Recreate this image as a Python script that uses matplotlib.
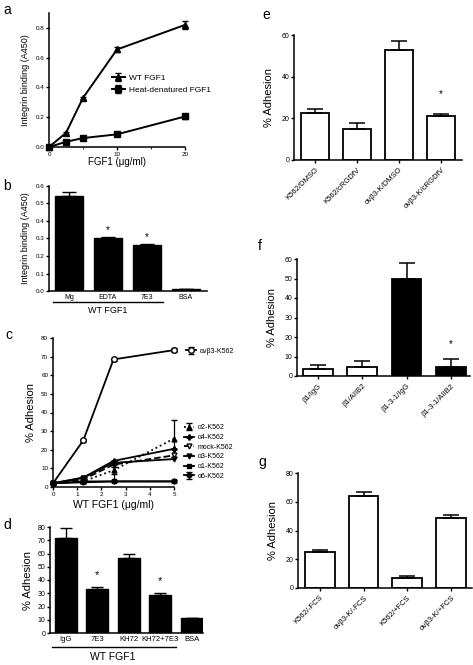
import matplotlib
matplotlib.use("Agg")
import matplotlib.pyplot as plt
import numpy as np

plt.rcParams['font.family'] = ['Liberation Sans', 'DejaVu Sans']
plt.rcParams['axes.linewidth'] = 1.1
plt.rcParams['xtick.major.width'] = 1.0
plt.rcParams['ytick.major.width'] = 1.0
plt.rcParams['xtick.major.size'] = 2.5
plt.rcParams['ytick.major.size'] = 2.5
plt.rcParams['xtick.direction'] = 'out'
plt.rcParams['ytick.direction'] = 'out'

# ---------------- data ----------------
# panel a
a_x = [0, 2.5, 5, 10, 20]
a_wt = [0.0, 0.095, 0.33, 0.655, 0.82]
a_wt_err = [0.0, 0.005, 0.008, 0.02, 0.025]
a_heat = [0.0, 0.035, 0.06, 0.085, 0.205]
a_heat_err = [0.0, 0.004, 0.005, 0.006, 0.02]

# panel b
b_cats = ['Mg', 'EDTA', '7E3', 'BSA']
b_vals = [0.545, 0.30, 0.26, 0.012]
b_err = [0.02, 0.01, 0.008, 0.002]

# panel c
c_x = [0, 1.25, 2.5, 5]
c_avb3 = [2, 25, 68.5, 73.5]
c_avb3_err = [0.5, 1, 1, 1]
c_a2 = [2, 3, 9, 26]
c_a2_err = [0.5, 1, 2, 10]
c_a4 = [2, 5, 14, 20.5]
c_mock = [2, 4, 12, 17]
c_a3 = [2, 5, 13, 15]
c_a1 = [2, 3, 3, 3]
c_a6 = [2, 2.5, 3, 3]
c_a6_err_lo = [0.5, 0.5, 0.5, 0.5]
c_a6_err_hi = [0.5, 0.5, 9, 0.5]

# panel d
d_cats = ['IgG', '7E3', 'KH72', 'KH72+7E3', 'BSA']
d_vals = [72, 33, 56.5, 28.5, 11]
d_err = [7.5, 2, 3.5, 2, 0.5]

# panel e
e_cats = ['K562/DMSO', 'K562/cRGDfV', 'αvβ3-K/DMSO', 'αvβ3-K/cRGDfV']
e_vals = [22.7, 14.9, 52.8, 21.1]
e_err = [1.9, 2.7, 4.5, 1.0]

# panel f
f_cats = ['β1/IgG', 'β1/AIIB2', 'β1-3-1/IgG', 'β1-3-1/AIIB2']
f_vals = [3.8, 4.6, 49.7, 4.8]
f_err = [1.9, 3.1, 8.3, 3.9]
f_colors = ['white', 'white', 'black', 'black']

# panel g
g_cats = ['K562/-FCS', 'αvβ3-K/-FCS', 'K562/+FCS', 'αvβ3-K/+FCS']
g_vals = [25, 64.1, 7.1, 48.4]
g_err = [1.2, 2.5, 1.4, 2.1]

# ---------------- layout ----------------
W, H = 473, 665
fig = plt.figure(figsize=(W / 100, H / 100), dpi=100)


def axpx(l, t, r, b):
    ax = fig.add_axes([l / W, 1 - b / H, (r - l) / W, (b - t) / H])
    ax.spines['top'].set_visible(False)
    ax.spines['right'].set_visible(False)
    return ax


def plabel(x, y, s):
    fig.text(x / W, 1 - y / H, s, fontsize=10, ha='left', va='center')


TICK = 4.5

# ---- a ----
ax = axpx(49, 13, 185, 147)
ax.errorbar(a_x, a_wt, yerr=a_wt_err, color='black', marker='^', ms=4.5,
            lw=1.4, capsize=2.5, elinewidth=1, label='WT FGF1', clip_on=False)
ax.errorbar(a_x, a_heat, yerr=a_heat_err, color='black', marker='s', ms=4,
            lw=1.4, capsize=2.5, elinewidth=1, label='Heat-denatured FGF1', clip_on=False)
ax.set_xlim(0, 20)
ax.set_ylim(0, 0.9)
ax.set_xticks([0, 10, 20])
ax.set_xticks([5, 15], minor=True)
ax.set_yticks([0, 0.2, 0.4, 0.6, 0.8])
ax.set_yticklabels(['0.0', '0.2', '0.4', '0.6', '0.8'])
ax.tick_params(labelsize=TICK, pad=1)
ax.tick_params(which='minor', length=1.5)
ax.set_xlabel('FGF1 (μg/ml)', fontsize=7, labelpad=0)
ax.set_ylabel('Integrin binding (A450)', fontsize=6.5, labelpad=4)
h, l = ax.get_legend_handles_labels()
ax.legend(h, l, loc='center left', bbox_to_anchor=(0.43, 0.47), frameon=False,
          fontsize=6, handlelength=1.6, handletextpad=0.5, labelspacing=0.5,
          borderpad=0)
plabel(3, 10, 'a')

# ---- b ----
ax = axpx(49, 186, 207, 291)
xb = np.arange(len(b_cats))
ax.bar(xb, b_vals, width=0.72, color='black', edgecolor='black')
ax.errorbar(xb, b_vals, yerr=[np.zeros(len(b_vals)), b_err], fmt='none',
            ecolor='black', capsize=5, elinewidth=1)
ax.set_xlim(-0.51, 3.54)
ax.set_ylim(0, 0.6)
ax.set_xticks(xb)
ax.set_xticklabels(b_cats)
ax.set_yticks(np.arange(0, 0.61, 0.1))
ax.set_yticklabels(['0.0', '0.1', '0.2', '0.3', '0.4', '0.5', '0.6'])
ax.tick_params(axis='y', labelsize=TICK, pad=1)
ax.tick_params(axis='x', labelsize=5, length=0, pad=2.5)
ax.set_ylabel('Integrin binding (A450)', fontsize=6.5, labelpad=4)
for i in (1, 2):
    ax.text(xb[i], b_vals[i] + b_err[i] + 0.04, '*', ha='center', va='center', fontsize=7)
ax.plot([-0.41, 2.41], [-0.065, -0.065], color='black', lw=1, clip_on=False)
ax.text(1.0, -0.11, 'WT FGF1', ha='center', va='center', fontsize=6.5)
plabel(3, 186, 'b')

# ---- c ----
ax = axpx(53, 338, 174, 487)
kw = dict(color='black', lw=1.3, capsize=2, elinewidth=0.9, clip_on=False)
h_avb3 = ax.errorbar(c_x, c_avb3, yerr=c_avb3_err, marker='o', ms=4, mfc='white',
                     mew=1, label='αvβ3-K562', **kw)
h_a2 = ax.errorbar(c_x, c_a2, yerr=c_a2_err, marker='^', ms=3.5, ls=':',
                   label='α2-K562', **kw)
h_a4 = ax.plot(c_x, c_a4, marker='P', ms=3.5, color='black', lw=1.3,
               label='α4-K562', clip_on=False)[0]
h_mock = ax.plot(c_x, c_mock, marker='v', ms=3.5, mfc='white', color='black',
                 lw=1.3, ls='--', label='mock-K562', clip_on=False)[0]
h_a3 = ax.plot(c_x, c_a3, marker='v', ms=3.5, color='black', lw=1.3,
               label='α3-K562', clip_on=False)[0]
h_a1 = ax.plot(c_x, c_a1, marker='s', ms=3.5, color='black', lw=1.3,
               label='α1-K562', clip_on=False)[0]
h_a6 = ax.errorbar(c_x, c_a6, yerr=[c_a6_err_lo, c_a6_err_hi], marker='h', ms=3.5,
                   label='α6-K562', **kw)
ax.set_xlim(0, 5)
ax.set_ylim(0, 80)
ax.set_xticks(range(0, 6))
ax.set_yticks(range(0, 81, 10))
ax.tick_params(labelsize=TICK, pad=1)
ax.set_xlabel('WT FGF1 (μg/ml)', fontsize=7.5, labelpad=2)
ax.set_ylabel('% Adhesion', fontsize=8, labelpad=4)
leg1 = ax.legend(handles=[h_avb3], loc='center left', bbox_to_anchor=(1.07, 73 / 80),
                 frameon=False, fontsize=5, handlelength=1.5, handletextpad=0.5,
                 borderpad=0)
ax.add_artist(leg1)
ax.legend(handles=[h_a2, h_a4, h_mock, h_a3, h_a1, h_a6], loc='center left',
          bbox_to_anchor=(1.05, 0.235), frameon=False, fontsize=5,
          handlelength=1.5, handletextpad=0.5, labelspacing=0.38, borderpad=0)
plabel(5, 335, 'c')

# ---- d ----
ax = axpx(50, 527, 203, 633)
xd = np.arange(len(d_cats))
ax.bar(xd, d_vals, width=0.7, color='black', edgecolor='black')
ax.errorbar(xd, d_vals, yerr=[np.zeros(len(d_vals)), d_err], fmt='none',
            ecolor='black', capsize=4, elinewidth=1)
ax.set_xlim(-0.5, 4.35)
ax.set_ylim(0, 80)
ax.set_xticks(xd)
ax.set_xticklabels(d_cats)
ax.set_yticks(range(0, 81, 10))
ax.tick_params(axis='y', labelsize=5, pad=1)
ax.tick_params(axis='x', labelsize=5.5, length=0, pad=2)
ax.set_ylabel('% Adhesion', fontsize=8, labelpad=3)
for i in (1, 3):
    ax.text(xd[i], d_vals[i] + d_err[i] + 9, '*', ha='center', va='center', fontsize=8)
ax.plot([-0.44, 3.5], [-10.8, -10.8], color='black', lw=1, clip_on=False)
ax.text(1.5, -18.2, 'WT FGF1', ha='center', va='center', fontsize=7.5)
plabel(3, 525, 'd')


def open_bars(ax, cats, vals, errs, colors, width, ylim, yticks, star_idx, star_y):
    x = np.arange(len(cats))
    ax.bar(x, vals, width=width, color=colors, edgecolor='black', lw=1.3)
    ax.errorbar(x, vals, yerr=[np.zeros(len(vals)), errs], fmt='none',
                ecolor='black', capsize=6, elinewidth=1.1, capthick=1.1)
    ax.set_ylim(*ylim)
    ax.set_yticks(yticks)
    ax.set_xticks(x)
    ax.set_xticklabels(cats, rotation=45, ha='right', rotation_mode='anchor')
    ax.tick_params(axis='y', labelsize=5, pad=1)
    ax.tick_params(axis='x', labelsize=5.5, pad=2)
    ax.set_ylabel('% Adhesion', fontsize=8, labelpad=5)
    if star_idx is not None:
        ax.text(x[star_idx], star_y, '*', ha='center', va='center', fontsize=7)


# ---- e ----
ax = axpx(294, 35, 462, 160)
open_bars(ax, e_cats, e_vals, e_err, 'white', 0.68, (0, 60), [0, 20, 40, 60], 3, 31.5)
ax.set_xlim(-0.5, 3.5)
plabel(262, 15, 'e')

# ---- f ----
ax = axpx(297, 259, 470, 376)
open_bars(ax, f_cats, f_vals, f_err, f_colors, 0.67, (0, 60), list(range(0, 61, 10)), 3, 16.6)
ax.set_xlim(-0.47, 3.43)
plabel(258, 246, 'f')

# ---- g ----
ax = axpx(298, 473, 472, 588)
open_bars(ax, g_cats, g_vals, g_err, 'white', 0.68, (0, 80), [0, 20, 40, 60, 80], None, 0)
ax.set_xlim(-0.5, 3.48)
plabel(258, 462, 'g')

fig.savefig('out.png', dpi=100)
